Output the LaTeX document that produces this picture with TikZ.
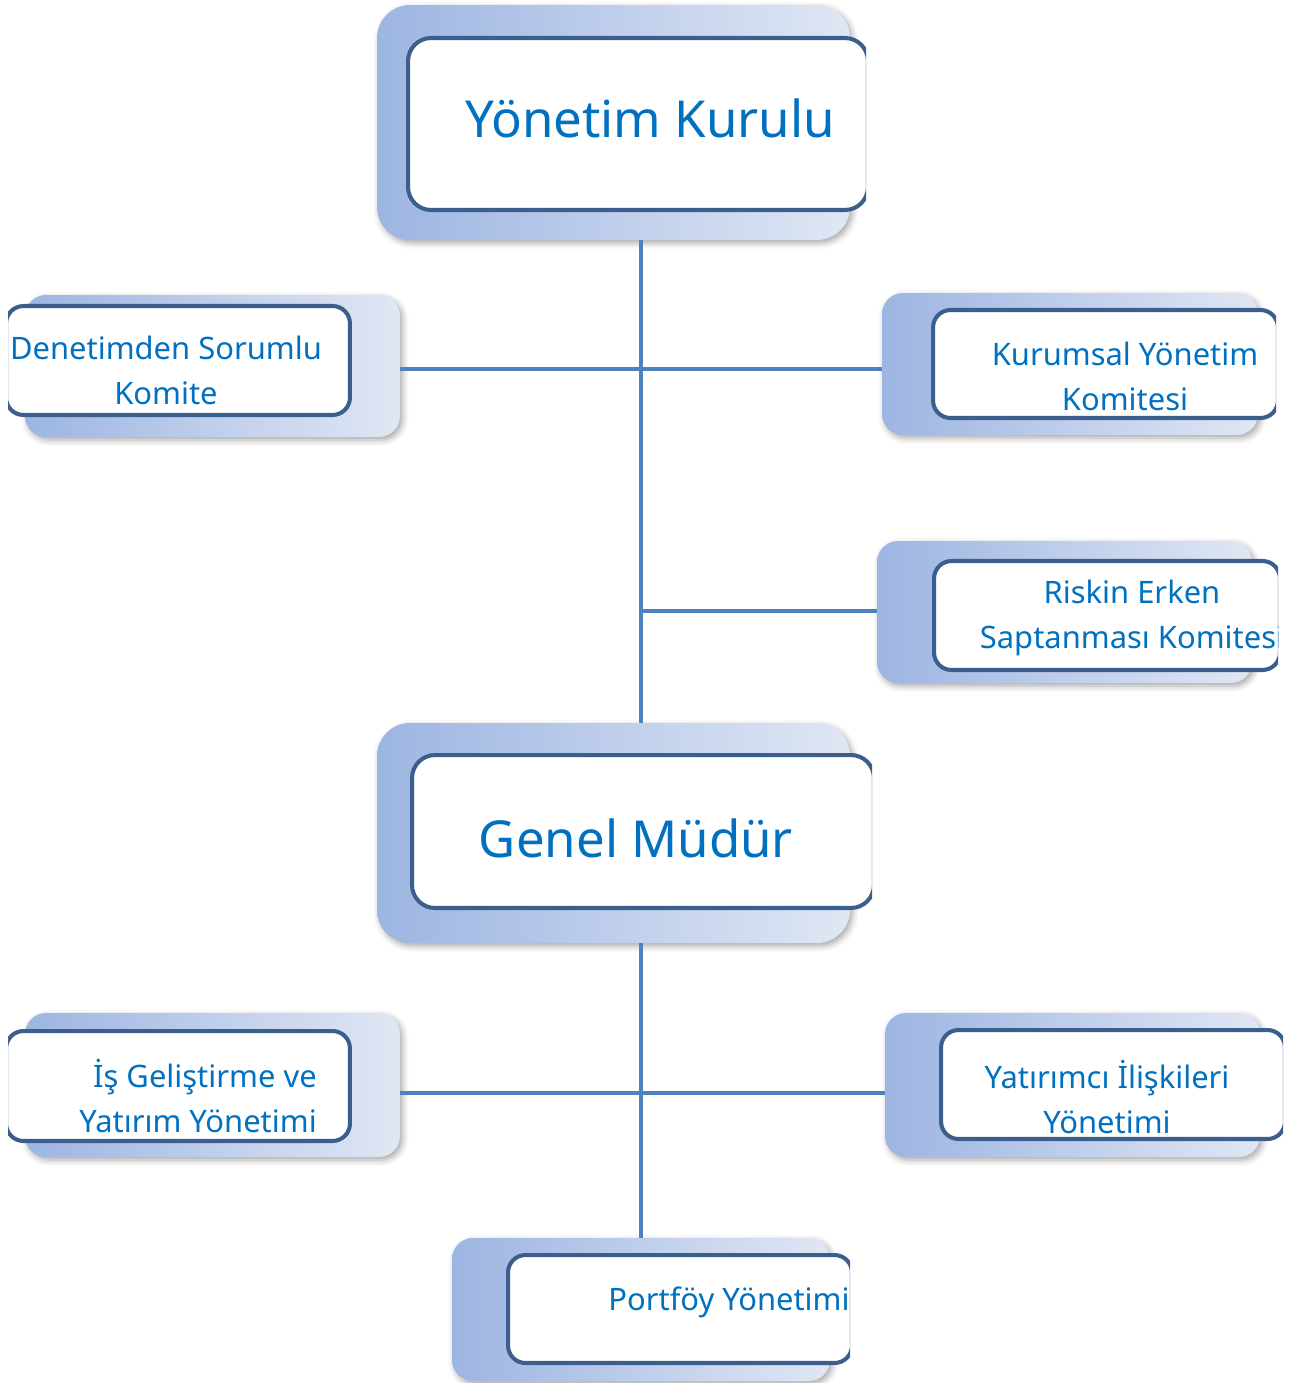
\documentclass[tikz,border=0pt]{standalone}
\usepackage{fontspec}
\setmainfont{Noto Sans}
\usetikzlibrary{shadows.blur}
\definecolor{txtblue}{HTML}{0070C0}
\definecolor{framecol}{HTML}{3B5E8C}
\definecolor{linecol}{HTML}{4F81BD}
\definecolor{bkleft}{HTML}{9DB5E2}
\definecolor{bkright}{HTML}{E0E7F4}

\begin{document}
\begin{tikzpicture}[x=0.02cm, y=-0.02cm,
  back/.style={rectangle, rounded corners=0.42cm, left color=bkleft, middle color=bkright!85!bkleft, right color=bkright,
    blur shadow={shadow xshift=0.05cm, shadow yshift=-0.06cm, shadow blur radius=0.12cm, shadow opacity=35}},
  backbig/.style={back, rounded corners=0.66cm},
  front/.style={rectangle, draw=framecol, line width=2.3pt, fill=white, rounded corners=0.35cm},
  frontbig/.style={front, rounded corners=0.46cm},
  boxtext/.style={text=txtblue, align=center, font=\fontsize{17.6}{25.5}\selectfont},
  bigtext/.style={text=txtblue, font=\fontsize{29}{34}\selectfont},
  link/.style={draw=linecol, line width=2.4pt}]
\useasboundingbox (0,0) rectangle (1313,1383);

% Back panels
\node[backbig, minimum width=9.46cm, minimum height=4.70cm] (kurulB) at (613.5,122.5) {};
\node[back, minimum width=7.50cm, minimum height=2.84cm] (denetimB) at (212.5,366) {};
\node[back, minimum width=7.52cm, minimum height=2.84cm] (kurumsalB) at (1070,364) {};
\node[back, minimum width=7.50cm, minimum height=2.84cm] (riskinB) at (1064.5,612) {};
\node[backbig, minimum width=9.46cm, minimum height=4.40cm] (mudurB) at (613.5,833) {};
\node[back, minimum width=7.50cm, minimum height=2.88cm] (isB) at (212.5,1085) {};
\node[back, minimum width=7.50cm, minimum height=2.88cm] (yatirimciB) at (1072.5,1085) {};
\node[back, minimum width=7.56cm, minimum height=2.86cm] (portfoyB) at (641,1309.5) {};

% Connectors
\coordinate (spine) at (641,0);
\coordinate (rowA) at (0,369);
\coordinate (rowB) at (0,611);
\coordinate (rowC) at (0,1093);
\draw[link] (kurulB.south -| spine) -- (mudurB.north -| spine);
\draw[link] (denetimB.east |- rowA) -- (kurumsalB.west |- rowA);
\draw[link] (spine |- rowB) -- (riskinB.west |- rowB);
\draw[link] (mudurB.south -| spine) -- (portfoyB.north);
\draw[link] (isB.east |- rowC) -- (yatirimciB.west |- rowC);

% Front boxes, cut at one side
\begin{scope}
\clip (0,0) rectangle (866,1383);
\node[frontbig, minimum width=9.20cm, minimum height=3.44cm] (kurul) at (638,124) {};
\node[bigtext] (kurulT) at (650,118) {Yönetim Kurulu};
\end{scope}
\begin{scope}
\clip (8,0) rectangle (1313,1383);
\node[front, minimum width=6.88cm, minimum height=2.18cm] (denetim) at (178,360.5) {};
\node[boxtext] (denetimT) at (166,370) {Denetimden Sorumlu\\Komite};
\node[front, minimum width=6.88cm, minimum height=2.20cm] (is) at (178,1086) {};
\node[boxtext, align=right] (isT) at (198,1096) {İş Geliştirme ve\\Yatırım Yönetimi};
\end{scope}
\begin{scope}
\clip (0,0) rectangle (1276,1383);
\node[front, minimum width=6.90cm, minimum height=2.16cm] (kurumsal) at (1105.5,364) {};
\node[boxtext] (kurumsalT) at (1125,376) {Kurumsal Yönetim\\Komitesi};
\end{scope}
\begin{scope}
\clip (0,0) rectangle (1278,1383);
\node[front, minimum width=6.92cm, minimum height=2.18cm] (riskin) at (1107,615.5) {};
\node[boxtext] (riskinT) at (1132,618) {Riskin Erken\\Saptanması Komitesi};
\end{scope}
\begin{scope}
\clip (0,0) rectangle (872,1383);
\node[frontbig, minimum width=9.24cm, minimum height=3.06cm] (mudur) at (643,831.5) {};
\node[bigtext] (mudurT) at (636,838) {Genel Müdür};
\end{scope}
\begin{scope}
\clip (0,0) rectangle (1283,1383);
\node[front, minimum width=6.88cm, minimum height=2.18cm] (yatirimci) at (1113,1084.5) {};
\node[boxtext] (yatirimciT) at (1107,1097) {Yatırımcı İlişkileri\\Yönetimi};
\end{scope}
\begin{scope}
\clip (0,0) rectangle (850,1383);
\node[front, minimum width=6.88cm, minimum height=2.16cm] (portfoy) at (680,1309) {};
\node[boxtext] (portfoyT) at (729,1302) {Portföy Yönetimi};
\end{scope}
\end{tikzpicture}
\end{document}
